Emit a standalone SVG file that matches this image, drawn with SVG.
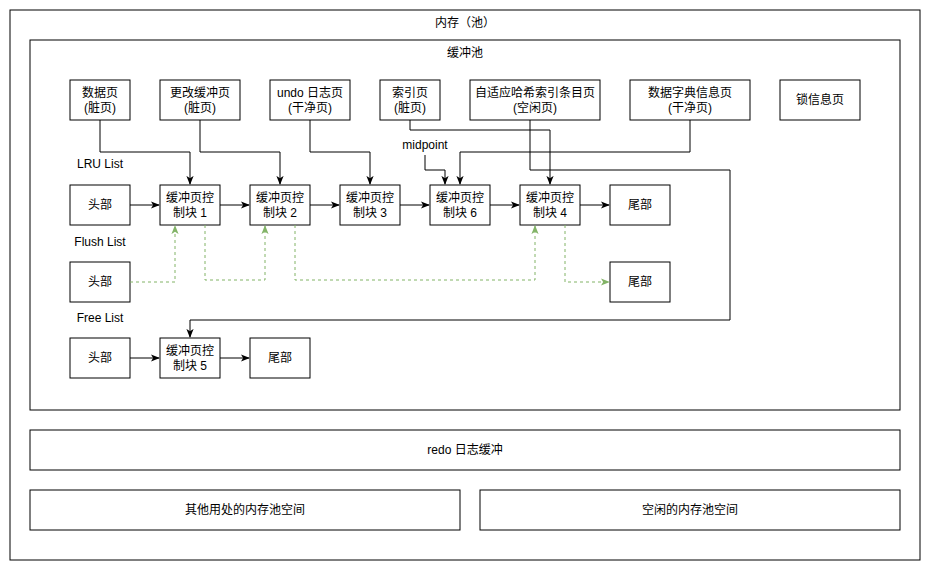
<svg xmlns="http://www.w3.org/2000/svg" width="932" height="572" viewBox="0 0 932 572">
<style>
.b{fill:#fff;stroke:#000;stroke-width:1}
text{font-family:"Liberation Sans","Noto Sans CJK SC",sans-serif;font-size:12px;fill:#000;text-anchor:middle;dominant-baseline:central}
.c{fill:none;stroke:#000;stroke-width:1}
.g{fill:none;stroke:#82b366;stroke-width:1;stroke-dasharray:3 3}
</style>
<defs>
<marker id="a" viewBox="0 0 10 10" refX="9" refY="5" markerWidth="9" markerHeight="9" markerUnits="userSpaceOnUse" orient="auto"><path d="M0,1 L10,5 L0,9 L2.5,5 Z" fill="#000"/></marker>
<marker id="ag" viewBox="0 0 10 10" refX="9" refY="5" markerWidth="9" markerHeight="9" markerUnits="userSpaceOnUse" orient="auto"><path d="M0,1 L10,5 L0,9 L2.5,5 Z" fill="#82b366"/></marker>
</defs>
<rect width="932" height="572" fill="#fff"/>
<g id="memory"><rect class="b" x="10" y="10" width="910" height="550"/><text x="465" y="23">内存（池）</text></g>
<g id="bufferpool"><rect class="b" x="30" y="40" width="870" height="370"/><text x="465" y="53">缓冲池</text></g>

<g id="p1"><rect class="b" x="70" y="80" width="60" height="40"/><text x="100" y="93">数据页</text><text x="100" y="108">(脏页)</text></g>
<g id="p2"><rect class="b" x="160" y="80" width="80" height="40"/><text x="200" y="93">更改缓冲页</text><text x="200" y="108">(脏页)</text></g>
<g id="p3"><rect class="b" x="270" y="80" width="80" height="40"/><text x="310" y="93">undo 日志页</text><text x="310" y="108">(干净页)</text></g>
<g id="p4"><rect class="b" x="380" y="80" width="60" height="40"/><text x="410" y="93">索引页</text><text x="410" y="108">(脏页)</text></g>
<g id="p5"><rect class="b" x="470" y="80" width="130" height="40"/><text x="535" y="93">自适应哈希索引条目页</text><text x="535" y="108">(空闲页)</text></g>
<g id="p6"><rect class="b" x="630" y="80" width="120" height="40"/><text x="690" y="93">数据字典信息页</text><text x="690" y="108">(干净页)</text></g>
<g id="p7"><rect class="b" x="780" y="80" width="80" height="40"/><text x="820" y="100">锁信息页</text></g>

<g id="lbl-lru"><text x="100" y="164">LRU List</text></g>
<g id="lbl-flush"><text x="100" y="242">Flush List</text></g>
<g id="lbl-free"><text x="100" y="318">Free List</text></g>
<g id="lbl-mid"><text x="425" y="145">midpoint</text></g>

<g id="lru-head"><rect class="b" x="70" y="185" width="60" height="40"/><text x="100" y="205">头部</text></g>
<g id="cb1"><rect class="b" x="160" y="185" width="60" height="40"/><text x="190" y="198">缓冲页控</text><text x="190" y="213">制块 1</text></g>
<g id="cb2"><rect class="b" x="250" y="185" width="60" height="40"/><text x="280" y="198">缓冲页控</text><text x="280" y="213">制块 2</text></g>
<g id="cb3"><rect class="b" x="340" y="185" width="60" height="40"/><text x="370" y="198">缓冲页控</text><text x="370" y="213">制块 3</text></g>
<g id="cb6"><rect class="b" x="430" y="185" width="60" height="40"/><text x="460" y="198">缓冲页控</text><text x="460" y="213">制块 6</text></g>
<g id="cb4"><rect class="b" x="520" y="185" width="60" height="40"/><text x="550" y="198">缓冲页控</text><text x="550" y="213">制块 4</text></g>
<g id="lru-tail"><rect class="b" x="610" y="185" width="60" height="40"/><text x="640" y="205">尾部</text></g>

<g id="flush-head"><rect class="b" x="70" y="262" width="60" height="40"/><text x="100" y="282">头部</text></g>
<g id="flush-tail"><rect class="b" x="610" y="262" width="60" height="40"/><text x="640" y="282">尾部</text></g>

<g id="free-head"><rect class="b" x="70" y="338" width="60" height="40"/><text x="100" y="358">头部</text></g>
<g id="cb5"><rect class="b" x="160" y="338" width="60" height="40"/><text x="190" y="351">缓冲页控</text><text x="190" y="366">制块 5</text></g>
<g id="free-tail"><rect class="b" x="250" y="338" width="60" height="40"/><text x="280" y="358">尾部</text></g>

<g id="redo"><rect class="b" x="30" y="430" width="870" height="40"/><text x="465" y="450">redo 日志缓冲</text></g>
<g id="other"><rect class="b" x="30" y="490" width="430" height="40"/><text x="245" y="510">其他用处的内存池空间</text></g>
<g id="freespace"><rect class="b" x="480" y="490" width="420" height="40"/><text x="690" y="510">空闲的内存池空间</text></g>

<g id="connectors">
<path class="c" d="M100,120 V152 H190 V184" marker-end="url(#a)"/>
<path class="c" d="M200,120 V152 H280 V184" marker-end="url(#a)"/>
<path class="c" d="M310,120 V152 H370 V184" marker-end="url(#a)"/>
<path class="c" d="M410,120 V130 H550 V184" marker-end="url(#a)"/>
<path class="c" d="M690,120 V152 H460 V184" marker-end="url(#a)"/>
<path class="c" d="M425,155 V170 H445 V184" marker-end="url(#a)"/>
<path class="c" d="M530,120 V170 H730 V320 H190 V337" marker-end="url(#a)"/>
<path class="c" d="M130,205 H159" marker-end="url(#a)"/>
<path class="c" d="M220,205 H249" marker-end="url(#a)"/>
<path class="c" d="M310,205 H339" marker-end="url(#a)"/>
<path class="c" d="M400,205 H429" marker-end="url(#a)"/>
<path class="c" d="M490,205 H519" marker-end="url(#a)"/>
<path class="c" d="M580,205 H609" marker-end="url(#a)"/>
<path class="c" d="M130,358 H159" marker-end="url(#a)"/>
<path class="c" d="M220,358 H249" marker-end="url(#a)"/>
<path class="g" d="M130,282 H175 V226" marker-end="url(#ag)"/>
<path class="g" d="M205,225 V280 H265 V226" marker-end="url(#ag)"/>
<path class="g" d="M295,225 V280 H535 V226" marker-end="url(#ag)"/>
<path class="g" d="M565,225 V282 H609" marker-end="url(#ag)"/>
</g>
</svg>
